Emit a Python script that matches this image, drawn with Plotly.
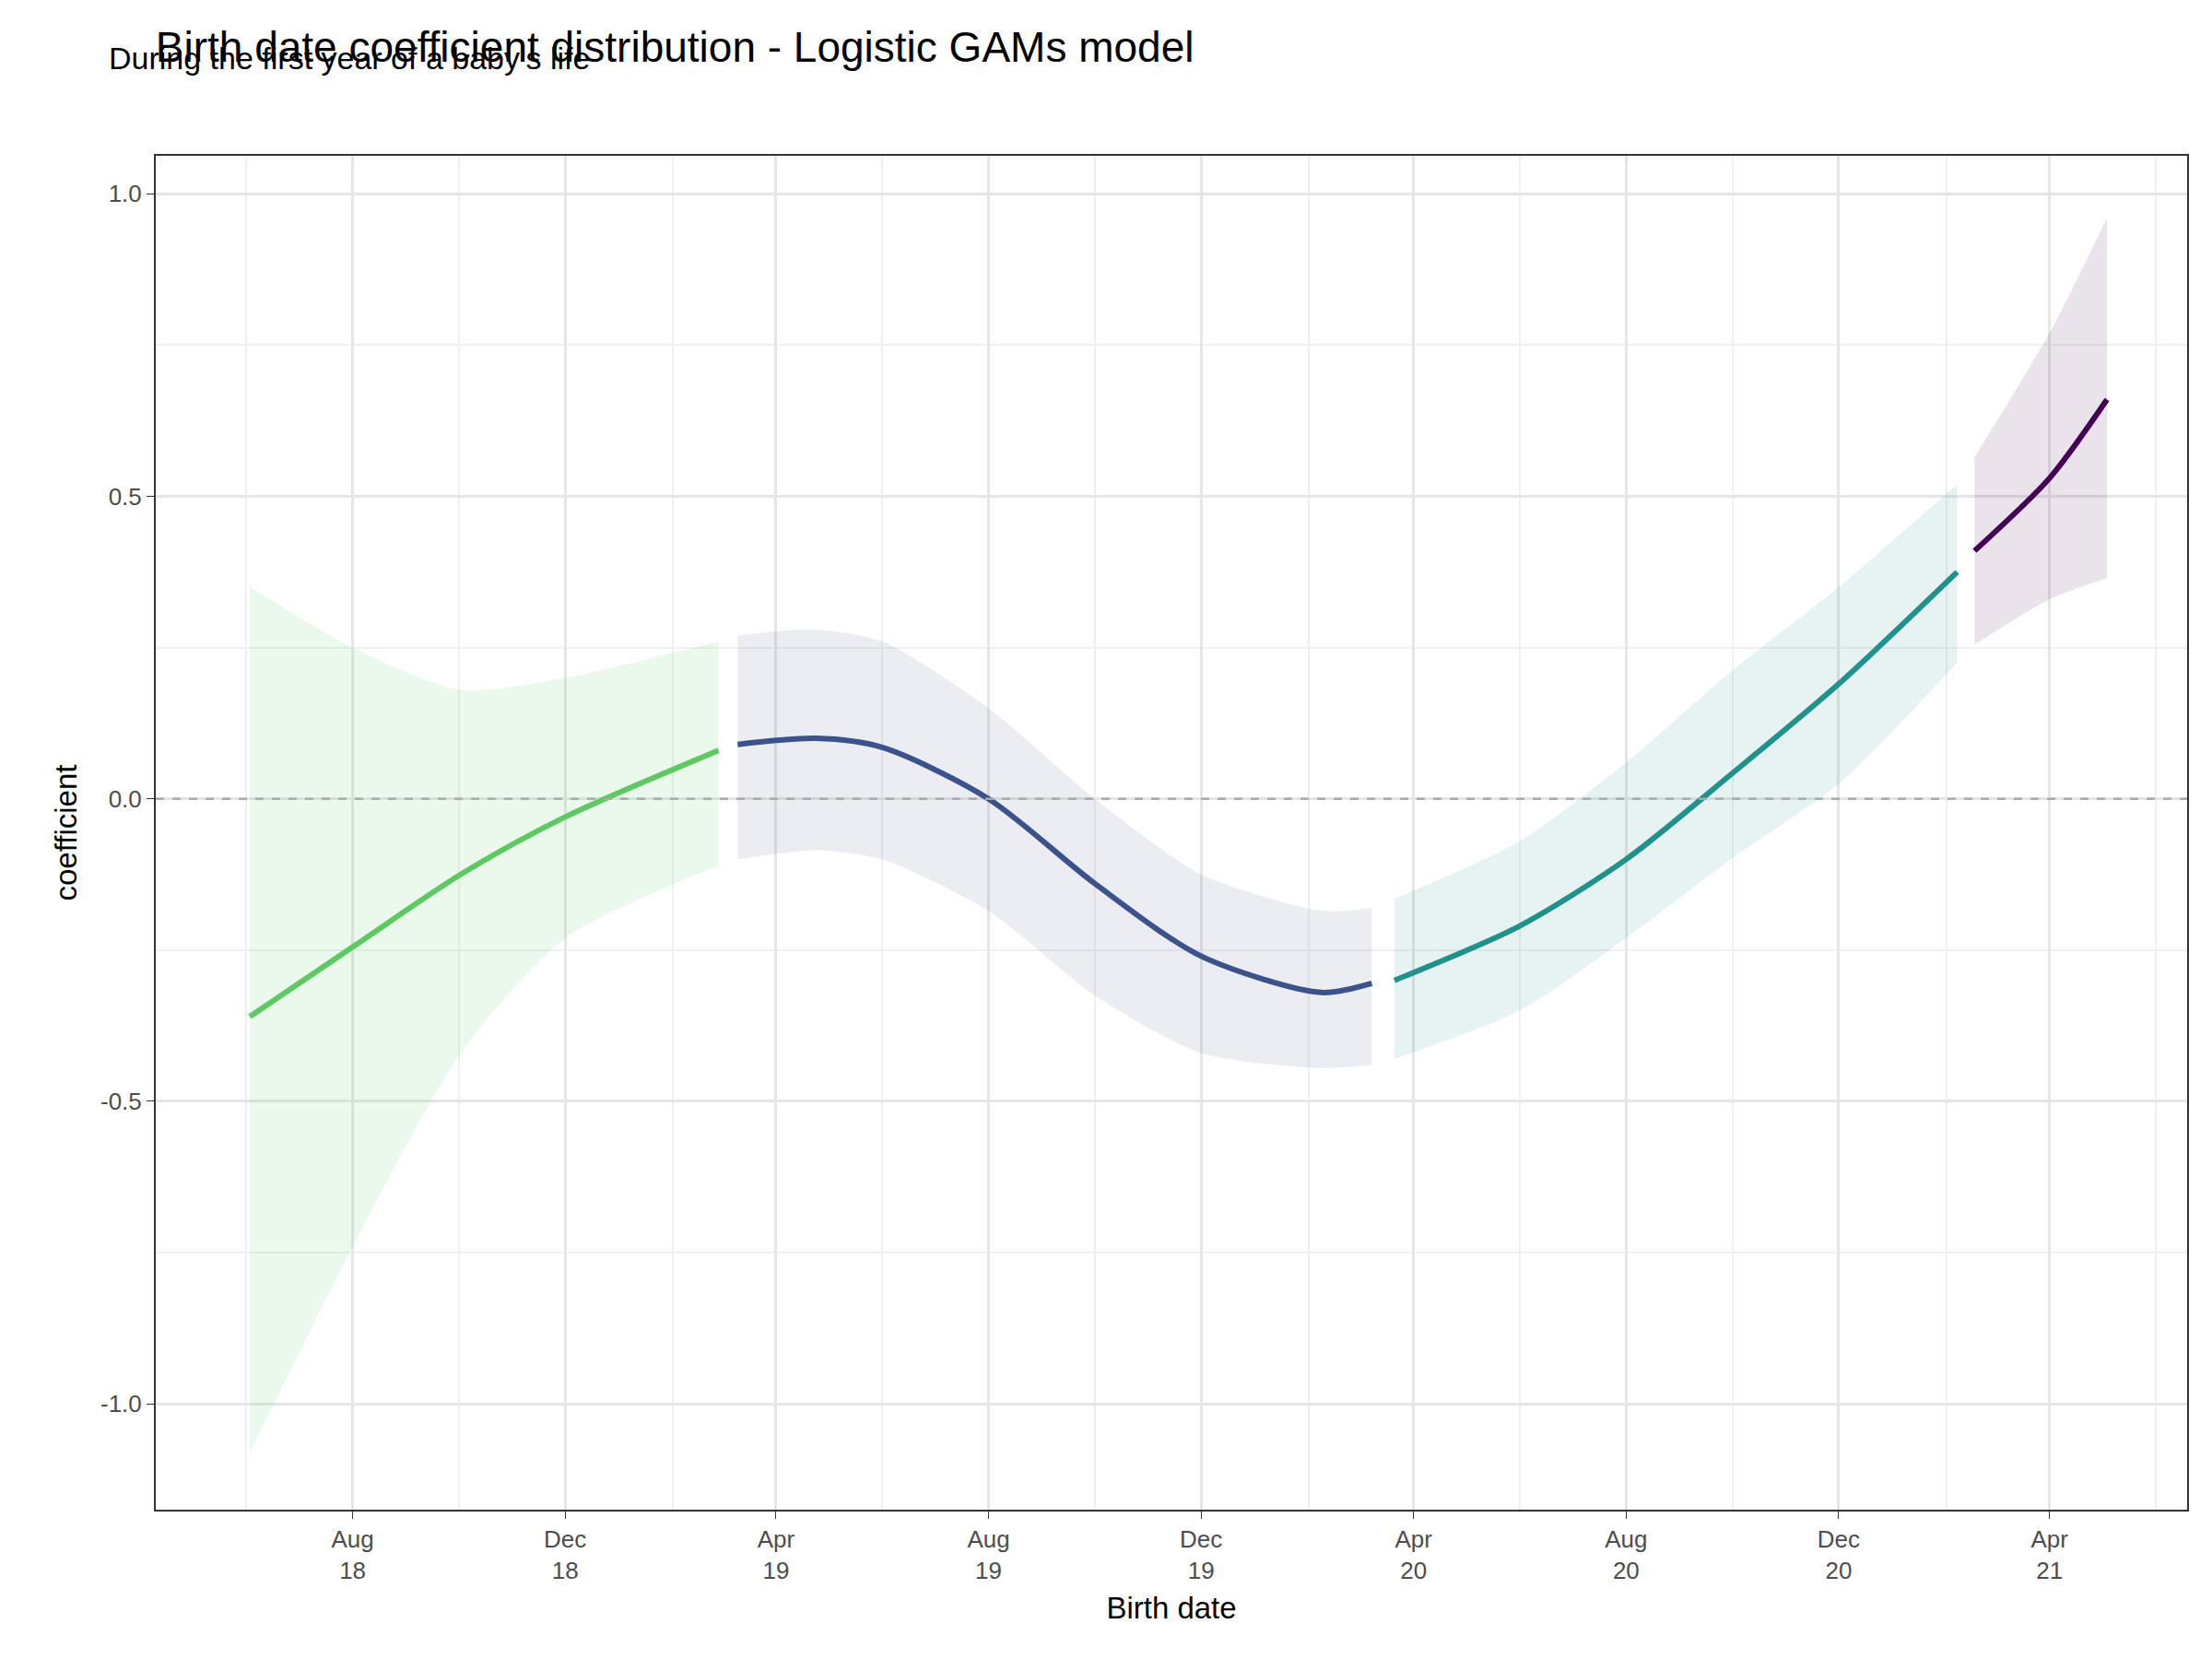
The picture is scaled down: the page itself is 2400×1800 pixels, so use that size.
import plotly.graph_objects as go

seg_names = ["s1", "s2", "s3", "s4"]
colors = ["#5ec962", "#3b528b", "#21918c", "#440154"]
fills = ["rgba(94,201,98,0.12)", "rgba(59,82,139,0.10)", "rgba(33,145,140,0.11)", "rgba(68,1,84,0.11)"]

dates1 = ["2018-06-03", "2018-08-01", "2018-10-02", "2018-12-01", "2019-02-27"]
fit1 = [-0.36, -0.245, -0.125, -0.03, 0.08]
up1 = [0.35, 0.25, 0.18, 0.20, 0.26]
lo1 = [-1.08, -0.74, -0.42, -0.23, -0.11]

dates2 = ["2019-03-10", "2019-04-24", "2019-06-01", "2019-08-01", "2019-10-01", "2019-12-01", "2020-02-08", "2020-03-08"]
fit2 = [0.09, 0.10, 0.085, 0.0, -0.14, -0.26, -0.32, -0.305]
up2 = [0.27, 0.28, 0.26, 0.15, 0.0, -0.125, -0.185, -0.18]
lo2 = [-0.10, -0.085, -0.10, -0.185, -0.325, -0.42, -0.445, -0.44]

dates3 = ["2020-03-21", "2020-06-01", "2020-08-01", "2020-09-30", "2020-12-01", "2021-02-07"]
fit3 = [-0.30, -0.21, -0.10, 0.04, 0.19, 0.375]
up3 = [-0.165, -0.07, 0.06, 0.21, 0.35, 0.52]
lo3 = [-0.43, -0.35, -0.23, -0.10, 0.025, 0.225]

dates4 = ["2021-02-17", "2021-04-01", "2021-05-04"]
fit4 = [0.41, 0.53, 0.66]
up4 = [0.565, 0.77, 0.96]
lo4 = [0.255, 0.33, 0.365]

segs = [(dates1, fit1, up1, lo1), (dates2, fit2, up2, lo2), (dates3, fit3, up3, lo3), (dates4, fit4, up4, lo4)]

fig = go.Figure()
for i, (d, f, u, l) in enumerate(segs):
    # band: upper edge then lower edge, each smoothed separately, joined by straight vertical ends
    fig.add_trace(go.Scatter(x=d, y=l, mode="lines", line=dict(width=0, shape="spline", smoothing=0.7),
                             hoverinfo="skip", showlegend=False))
    fig.add_trace(go.Scatter(x=d, y=u, mode="lines", fill="tonexty", fillcolor=fills[i],
                             line=dict(width=0, shape="spline", smoothing=0.7),
                             hoverinfo="skip", showlegend=False))
    fig.add_trace(go.Scatter(x=d, y=f, mode="lines", line=dict(color=colors[i], width=6, shape="spline", smoothing=0.8),
                             showlegend=False, name=seg_names[i]))

fig.add_hline(y=0, line=dict(color="#aaaaaa", dash="dash", width=2.5))

font = "Liberation Sans, Arial, sans-serif"
fig.update_layout(
    width=2400, height=1800, paper_bgcolor="white", plot_bgcolor="white",
    font=dict(family=font, color="black"),
    margin=dict(l=161, r=35, t=161, b=170),
    title=dict(text="Birth date coefficient distribution - Logistic GAMs model",
               x=0.067, xanchor="left", yref="container", y=0.985, yanchor="top", font=dict(size=46)),
    annotations=[dict(text="During the first year of a baby's life", xref="paper", yref="paper",
                      x=-0.024, y=1.058, xanchor="left", yanchor="bottom", showarrow=False,
                      font=dict(size=34))],
)
fig.update_xaxes(type="date", range=["2018-04-10", "2021-06-19"], tick0="2018-08-01", dtick="M4",
                 tickformat="%b<br>%y", tickfont=dict(size=26, color="#4d4d4d"),
                 ticks="outside", ticklen=8, tickcolor="#333333",
                 showgrid=True, gridcolor="#e6e6e6", gridwidth=2.5,
                 minor=dict(dtick="M4", tick0="2018-06-01", showgrid=True, gridcolor="#f0f0f0", gridwidth=1.5),
                 showline=True, mirror=True, linecolor="#333333", linewidth=2, zeroline=False,
                 title=dict(text="Birth date", font=dict(size=33)))
fig.update_yaxes(range=[-1.175, 1.063], tickvals=[-1.0, -0.5, 0.0, 0.5, 1.0], ticktext=["-1.0", "-0.5", "0.0", "0.5", "1.0"],
                 tickfont=dict(size=26, color="#4d4d4d"), ticks="outside", ticklen=8, tickcolor="#333333",
                 showgrid=True, gridcolor="#e6e6e6", gridwidth=2.5,
                 minor=dict(tickvals=[-0.75, -0.25, 0.25, 0.75], showgrid=True, gridcolor="#f0f0f0", gridwidth=1.5),
                 showline=True, mirror=True, linecolor="#333333", linewidth=2, zeroline=False,
                 title=dict(text="coefficient", font=dict(size=33)))
fig.write_html("out.html")
